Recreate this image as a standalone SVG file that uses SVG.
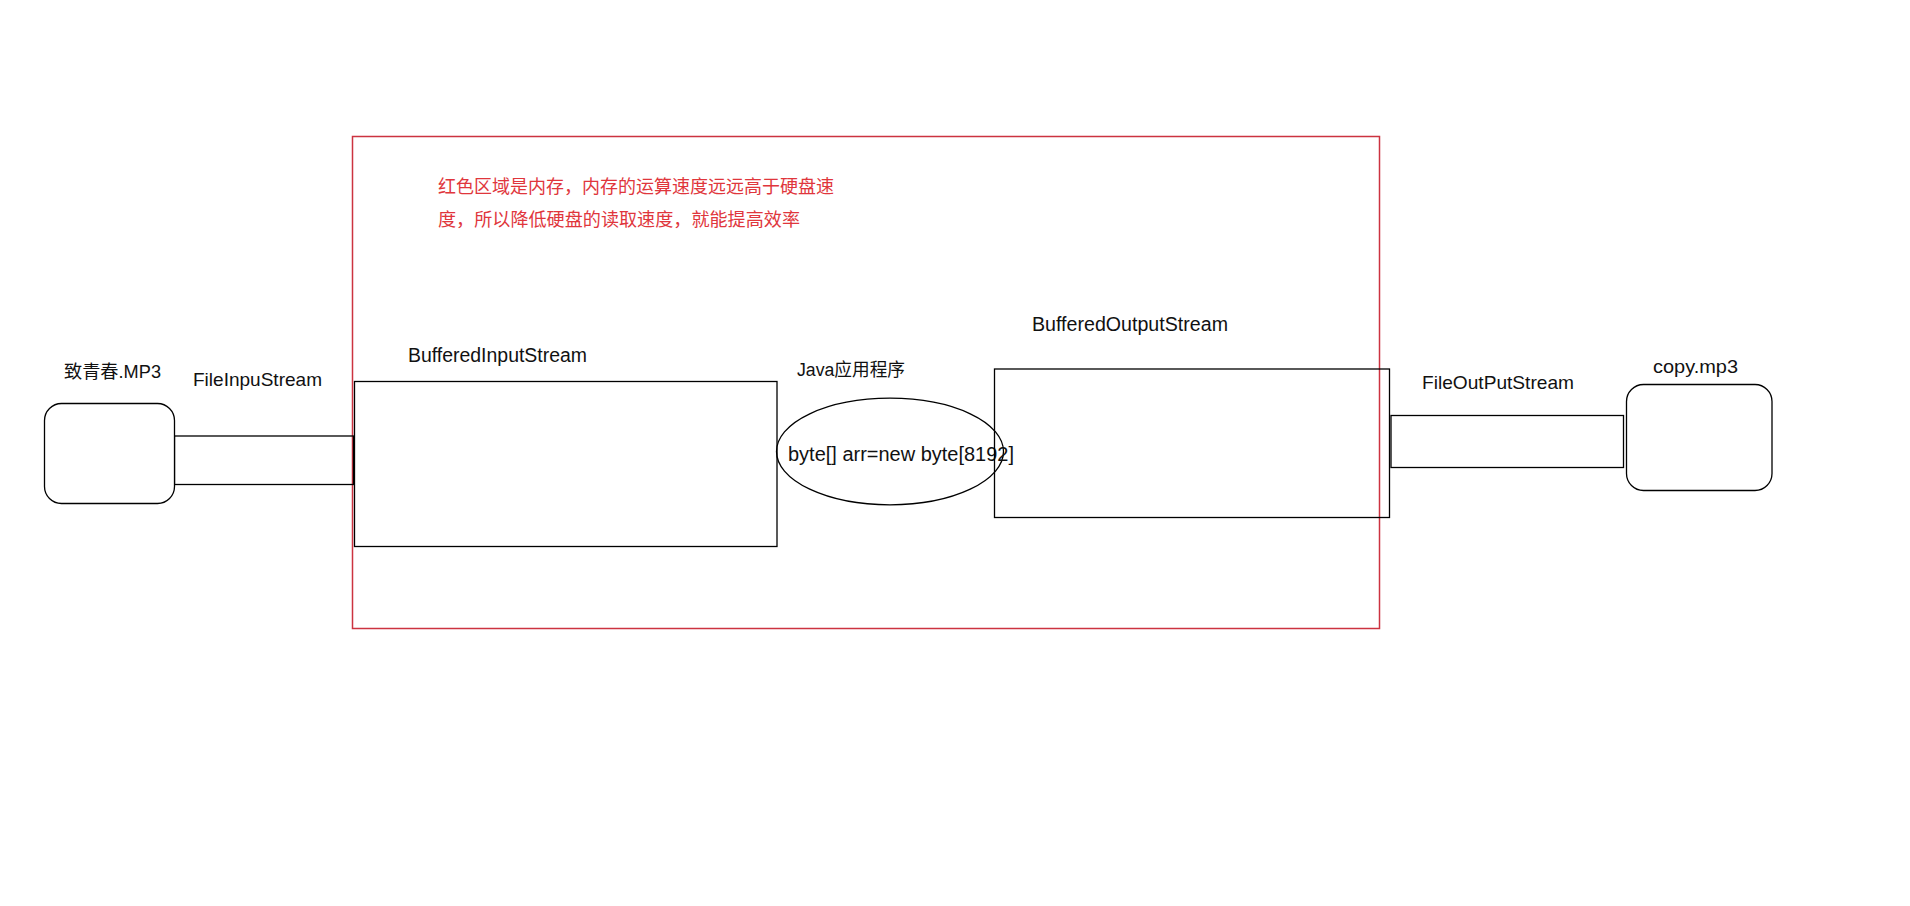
<svg xmlns="http://www.w3.org/2000/svg" width="1910" height="906" viewBox="0 0 1910 906">
<style>
.bg{fill:#ffffff}
.box{fill:none;stroke:#000000;stroke-width:1.3}
.mem{fill:none;stroke:#cc3340;stroke-width:1.5}
.lbl{font-family:"Liberation Sans","Noto Sans CJK SC",Arial,sans-serif;fill:#111111}
.note{font-family:"Noto Sans CJK SC","Liberation Sans",sans-serif;font-size:18.5px;fill:#e0363c}
</style>
<rect class="bg" x="0" y="0" width="1910" height="906"/>
<g id="memory-region">
  <rect class="mem" x="352.5" y="136.5" width="1027" height="492"/>
  <text class="note" x="438" y="193" textLength="396" lengthAdjust="spacingAndGlyphs">红色区域是内存，内存的运算速度远远高于硬盘速</text>
  <text class="note" x="438" y="226" textLength="362" lengthAdjust="spacingAndGlyphs">度，所以降低硬盘的读取速度，就能提高效率</text>
</g>
<g id="connectors">
  <rect class="box" x="174.5" y="436" width="179" height="48.5"/>
  <rect class="box" x="1391" y="415.5" width="232.5" height="52"/>
</g>
<g id="node-mp3">
  <rect class="box" x="44.5" y="403.5" width="130" height="100" rx="17" ry="17" fill="#ffffff" style="fill:#ffffff"/>
  <text class="lbl" x="64" y="378" font-size="18" textLength="97" lengthAdjust="spacingAndGlyphs">致青春.MP3</text>
</g>
<g id="node-fis">
  <text class="lbl" x="193" y="386" font-size="18.5" textLength="129" lengthAdjust="spacingAndGlyphs">FileInpuStream</text>
</g>
<g id="node-bis">
  <rect class="box" x="354.5" y="381.5" width="422.5" height="165"/>
  <text class="lbl" x="408" y="362" font-size="19.5" textLength="179" lengthAdjust="spacingAndGlyphs">BufferedInputStream</text>
</g>
<g id="node-java">
  <ellipse class="box" cx="890" cy="451.5" rx="113.5" ry="53.3"/>
  <text class="lbl" x="797" y="376" font-size="18" textLength="108" lengthAdjust="spacingAndGlyphs">Java应用程序</text>
  <text class="lbl" x="788" y="461" font-size="20" textLength="226" lengthAdjust="spacingAndGlyphs">byte[] arr=new byte[8192]</text>
</g>
<g id="node-bos">
  <rect class="box" x="994.5" y="369" width="395" height="148.5"/>
  <text class="lbl" x="1032" y="331" font-size="19.5" textLength="196" lengthAdjust="spacingAndGlyphs">BufferedOutputStream</text>
</g>
<g id="node-fos">
  <text class="lbl" x="1422" y="389" font-size="19" textLength="152" lengthAdjust="spacingAndGlyphs">FileOutPutStream</text>
</g>
<g id="node-copy">
  <rect class="box" x="1626.5" y="384.5" width="145.5" height="106" rx="17" ry="17"/>
  <text class="lbl" x="1653" y="373" font-size="19" textLength="85" lengthAdjust="spacingAndGlyphs">copy.mp3</text>
</g>
</svg>
